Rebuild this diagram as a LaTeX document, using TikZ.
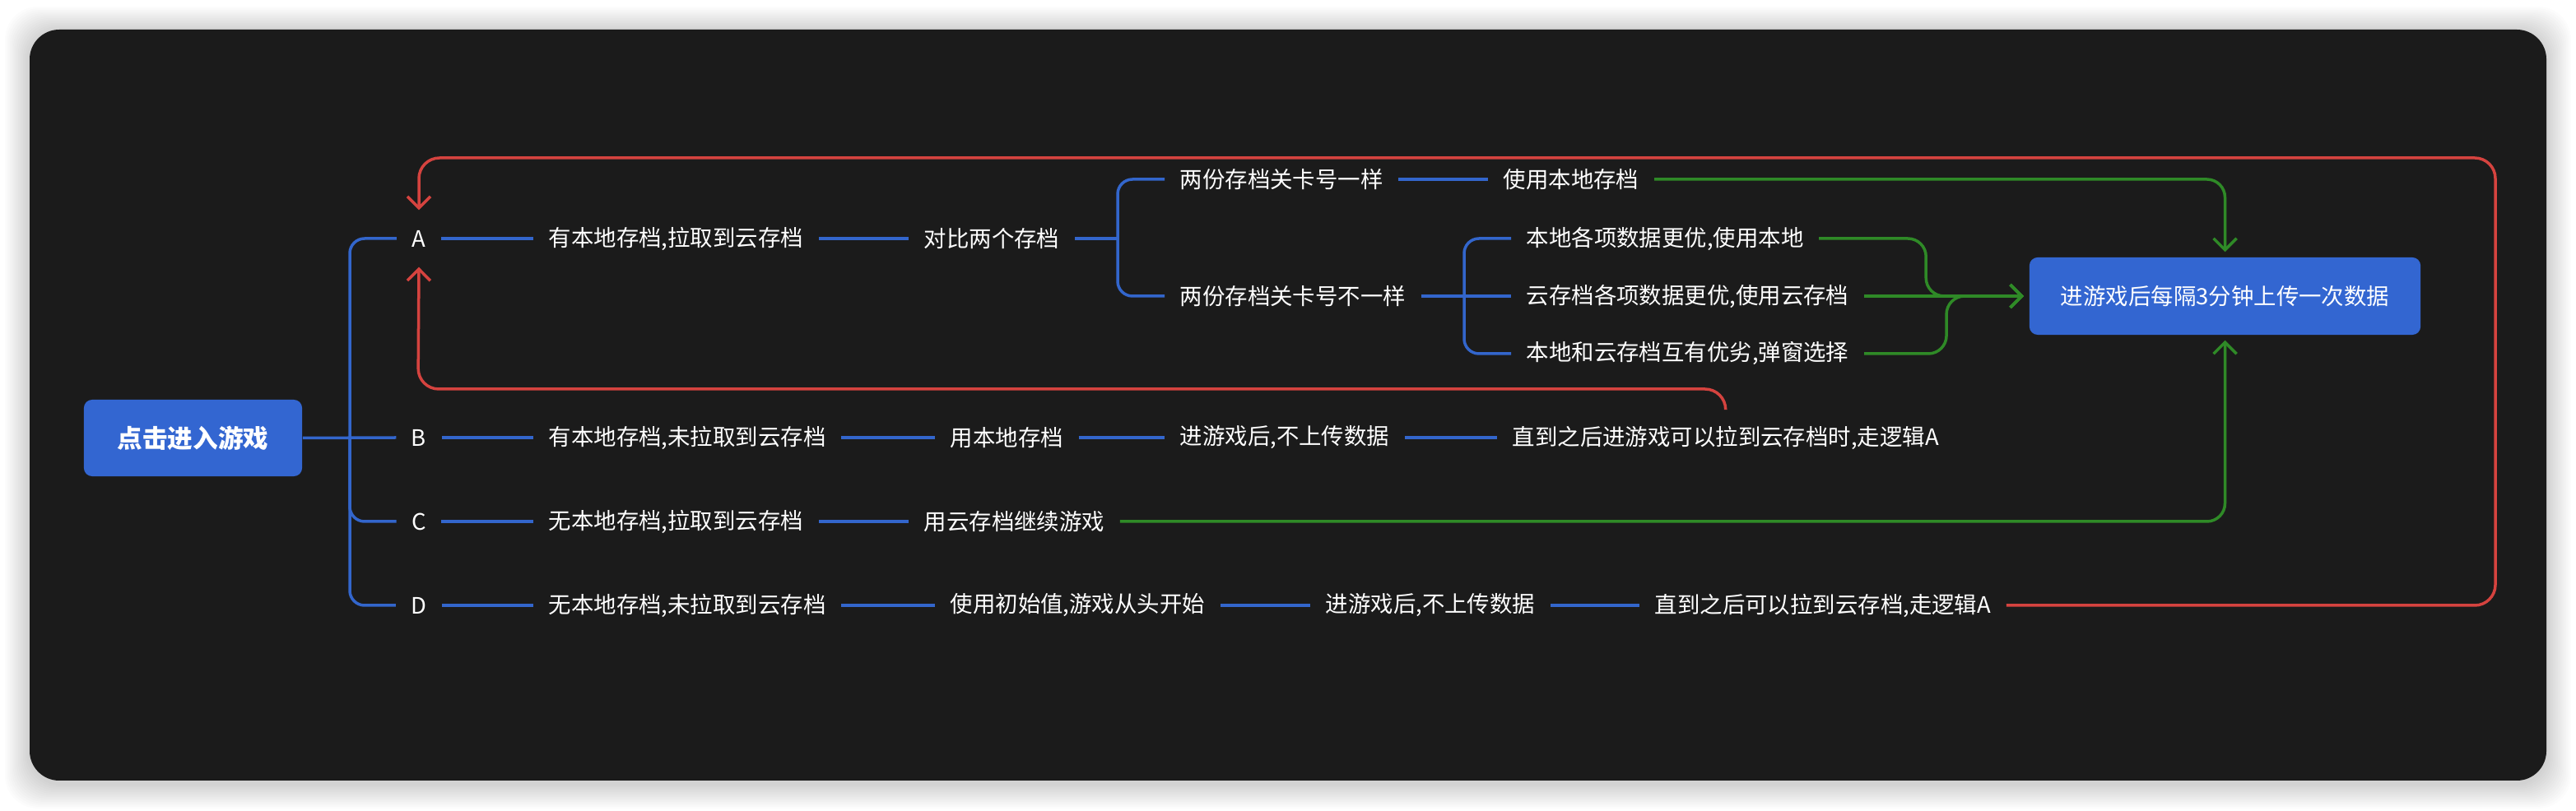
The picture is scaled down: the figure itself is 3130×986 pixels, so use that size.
\documentclass[tikz,border=0pt]{standalone}
\usepackage{fontspec}
\usepackage{tikz}
\usepackage{xcolor}
\usetikzlibrary{arrows.meta}
\setmainfont{Noto Sans CJK SC}

\definecolor{panel}{HTML}{1B1B1B}
\definecolor{topicblue}{HTML}{3366D1}
\definecolor{lineblue}{HTML}{3366CC}
\definecolor{linegreen}{HTML}{2F8A27}
\definecolor{linered}{HTML}{D5433F}

\tikzset{
  txt/.style={text=white, font=\fontsize{7.8}{9}\selectfont, inner xsep=0.18cm, inner ysep=0pt, minimum height=0.68cm, anchor=west},
  letter/.style={txt, anchor=center},
  topic/.style={fill=topicblue, text=white, rounded corners=0.1cm, inner sep=0pt, minimum height=0.93cm},
  bline/.style={draw=lineblue, line width=0.035cm, rounded corners=0.18cm},
  gline/.style={draw=linegreen, line width=0.035cm, rounded corners=0.22cm, -{Straight Barb[length=0.14cm,width=0.28cm]}, shorten >=0.06cm},
  rline/.style={draw=linered, line width=0.035cm, rounded corners=0.25cm, -{Straight Barb[length=0.14cm,width=0.28cm]}}
}

\begin{document}
\begin{tikzpicture}[x=0.01cm,y=-0.01cm]
\useasboundingbox (0,0) rectangle (3130,986);
\fill[white] (0,0) rectangle (3130,986);
\foreach \s in {2,4,...,30}
  \fill[black, opacity=0.011, rounded corners=0.4cm] ({36-\s},{38-\s}) rectangle ({3094+\s},{953+\s});
\fill[panel, rounded corners=0.36cm] (36,36) rectangle (3094,949);

\node[topic, minimum width=2.65cm, font=\fontsize{8.7}{10}\selectfont\bfseries] (root) at (234.5,532.5) {点击进入游戏};
\node[topic, minimum width=4.75cm, minimum height=0.94cm, font=\fontsize{7.8}{9}\selectfont] (up) at (2703.5,360) {进游戏后每隔3分钟上传一次数据};

\node[letter] (A) at (509,290) {A};
\node[letter] (B) at (509,532) {B};
\node[letter] (C) at (509,634) {C};
\node[letter] (D) at (509,736) {D};

\node[txt] (a1) at (648,290) {有本地存档,拉取到云存档};
\node[txt] (a2) at (1104,290) {对比两个存档};
\node[txt] (a3) at (1415,218) {两份存档关卡号一样};
\node[txt] (a4) at (1808,218) {使用本地存档};
\node[txt] (a5) at (1415,360) {两份存档关卡号不一样};
\node[txt] (a6) at (1836,290) {本地各项数据更优,使用本地};
\node[txt] (a7) at (1836,360) {云存档各项数据更优,使用云存档};
\node[txt] (a8) at (1836,430) {本地和云存档互有优劣,弹窗选择};

\node[txt] (b1) at (648,532) {有本地存档,未拉取到云存档};
\node[txt] (b2) at (1136,532) {用本地存档};
\node[txt] (b3) at (1415,532) {进游戏后,不上传数据};
\node[txt] (b4) at (1819,532) {直到之后进游戏可以拉到云存档时,走逻辑A};

\node[txt] (c1) at (648,634) {无本地存档,拉取到云存档};
\node[txt] (c2) at (1104,634) {用云存档继续游戏};

\node[txt] (d1) at (648,736) {无本地存档,未拉取到云存档};
\node[txt] (d2) at (1136,736) {使用初始值,游戏从头开始};
\node[txt] (d3) at (1592,736) {进游戏后,不上传数据};
\node[txt] (d4) at (1992,736) {直到之后可以拉到云存档,走逻辑A};

\coordinate (k1) at (425,532);
\coordinate (k2) at (1358,290);
\coordinate (k3) at (1779,360);
\coordinate (rtop) at (3032,192);
\coordinate (rbot) at (508,473);

\draw[bline] (root.east) -- (B.west);
\draw[bline] (A.west) -| (k1) |- (D.west);
\draw[bline] (k1) |- (C.west);
\draw[bline] (A.east) -- (a1.west);
\draw[bline] (a1.east) -- (a2.west);
\draw[bline] (a2.east) -- (k2);
\draw[bline] (a3.west) -| (k2) |- (a5.west);
\draw[bline] (a3.east) -- (a4.west);
\draw[bline] (a5.east) -- (a7.west);
\draw[bline] (a6.west) -| (k3) |- (a8.west);
\draw[bline] (B.east) -- (b1.west);
\draw[bline] (b1.east) -- (b2.west);
\draw[bline] (b2.east) -- (b3.west);
\draw[bline] (b3.east) -- (b4.west);
\draw[bline] (C.east) -- (c1.west);
\draw[bline] (c1.east) -- (c2.west);
\draw[bline] (D.east) -- (d1.west);
\draw[bline] (d1.east) -- (d2.west);
\draw[bline] (d2.east) -- (d3.west);
\draw[bline] (d3.east) -- (d4.west);

\draw[gline] (a4.east) -| (up.north);
\draw[gline] (a6.east) -- ++(130,0) |- (up.west);
\draw[gline] (a7.east) -- (up.west);
\draw[gline] (a8.east) -- ++(100,0) |- (up.west);
\draw[gline] (c2.east) -| (up.south);

\draw[rline] (d4.east) -| (rtop) -| (A.north);
\draw[rline] (b4.north) |- (rbot) -- (A.south);

\end{tikzpicture}
\end{document}
